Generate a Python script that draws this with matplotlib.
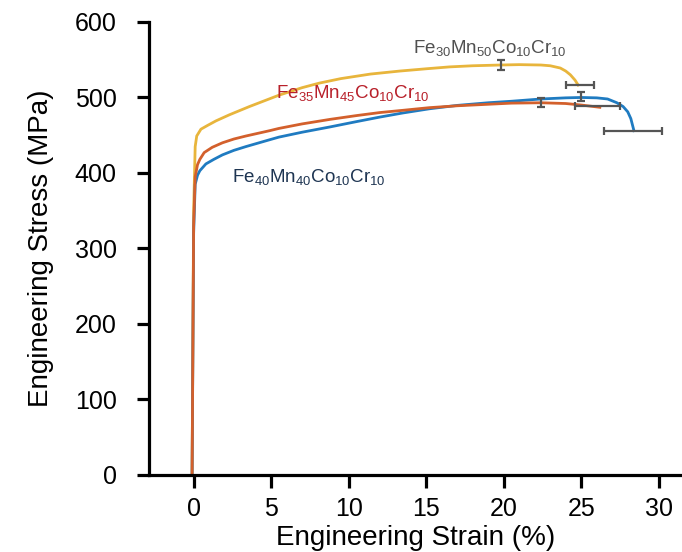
import matplotlib
matplotlib.use('Agg')
import matplotlib.pyplot as plt

plt.rcParams['font.family'] = ['Liberation Sans', 'DejaVu Sans']
plt.rcParams['mathtext.default'] = 'regular'

#---------------------------------------- data --------------------------------
# Fe30Mn50Co10Cr10 (yellow)
strain_30 = [-0.1, 0.0, 0.1, 0.2, 0.47, 0.9, 1.44, 2.3, 3.6, 5.5, 7.0, 8.1, 9.5, 11.4,
             13.3, 15.0, 16.5, 18.0, 19.8, 21.0, 22.4, 23.0, 23.65, 24.0, 24.3, 24.6, 24.8]
stress_30 = [0, 350, 435, 449, 458, 463, 469, 477, 488, 503, 513, 519, 525, 531,
             535, 538, 540.5, 542, 543, 543.5, 543, 542, 539, 535, 530, 523, 516.5]

# Fe35Mn45Co10Cr10 (orange)
strain_35 = [-0.1, 0.0, 0.1, 0.25, 0.4, 0.68, 1.2, 1.86, 2.6, 3.38, 4.9, 5.5, 7.0, 8.8, 10.5,
             12.0, 13.5, 15.2, 17.0, 19.0, 20.5, 22.4, 24.0, 25.0, 26.2]
stress_35 = [0, 330, 395, 411, 418, 427, 434, 440, 445, 449, 456, 459, 465, 471, 476,
             480, 483, 486.5, 489, 491, 492.5, 493, 492, 490, 487]

# Fe40Mn40Co10Cr10 (blue)
strain_40 = [-0.1, 0.0, 0.1, 0.25, 0.4, 0.79, 1.3, 1.86, 2.6, 3.38, 4.9, 5.5, 7.0, 8.8, 10.5,
             12.0, 13.5, 15.2, 17.0, 19.0, 20.5, 22.4, 24.0, 25.0, 26.0, 26.7, 27.3, 27.7,
             28.0, 28.2, 28.4]
stress_40 = [0, 320, 385, 397, 403, 412, 418, 424, 430, 435, 444, 447.5, 454, 461, 468,
             474, 479.5, 485, 489.5, 493, 495, 498, 499.5, 500, 499.5, 498, 493, 488,
             481, 472, 456]

# error bars: (strain, stress, error)
yerr_pts = [(19.8, 543, 7), (22.4, 493, 6), (25.0, 501, 6)]
xerr_pts = [(24.9, 516.5, 0.9), (26.05, 489, 1.45), (28.35, 456, 1.85)]

c_30 = '#E8B53C'
c_35 = '#D3602C'
c_40 = '#1F7BC1'
c_err = '#555555'

#---------------------------------------- figure --------------------------------------------------
fig = plt.figure(figsize=(6.82, 5.52), dpi=100)
ax = fig.add_axes([0.218, 0.1395, 0.782, 0.8207])

ax.plot(strain_30, stress_30, color=c_30, lw=2.0, solid_joinstyle='round')
ax.plot(strain_40, stress_40, color=c_40, lw=2.0, solid_joinstyle='round')
ax.plot(strain_35, stress_35, color=c_35, lw=2.0, solid_joinstyle='round')

for x, y, e in yerr_pts:
    ax.errorbar(x, y, yerr=e, fmt='none', ecolor=c_err, elinewidth=1.6, capsize=2.6, capthick=1.6)
for x, y, e in xerr_pts:
    ax.errorbar(x, y, xerr=e, fmt='none', ecolor=c_err, elinewidth=1.6, capsize=2.6, capthick=1.6)

ax.text(14.14, 559, r'Fe$_{30}$Mn$_{50}$Co$_{10}$Cr$_{10}$', color='#505050', fontsize=13.5, va='baseline')
ax.text(5.34, 499, r'Fe$_{35}$Mn$_{45}$Co$_{10}$Cr$_{10}$', color='#B8202A', fontsize=13.5, va='baseline')
ax.text(2.47, 388.5, r'Fe$_{40}$Mn$_{40}$Co$_{10}$Cr$_{10}$', color='#1E3552', fontsize=13.5, va='baseline')

ax.set_xlim(-2.9, 31.5)
ax.set_ylim(0, 600)
ax.set_xticks([0, 5, 10, 15, 20, 25, 30])
ax.set_yticks([0, 100, 200, 300, 400, 500, 600])

for s in ['top', 'right']:
    ax.spines[s].set_visible(False)
for s in ['left', 'bottom']:
    ax.spines[s].set_linewidth(2.3)
ax.tick_params(axis='both', width=2.3, length=9, labelsize=18)
ax.tick_params(axis='y', pad=14)
ax.tick_params(axis='x', pad=7)

ax.set_xlabel('Engineering Strain (%)', fontsize=20, labelpad=3)
ax.set_ylabel('Engineering Stress (MPa)', fontsize=20, labelpad=15)

plt.savefig('out.png', dpi=100)
